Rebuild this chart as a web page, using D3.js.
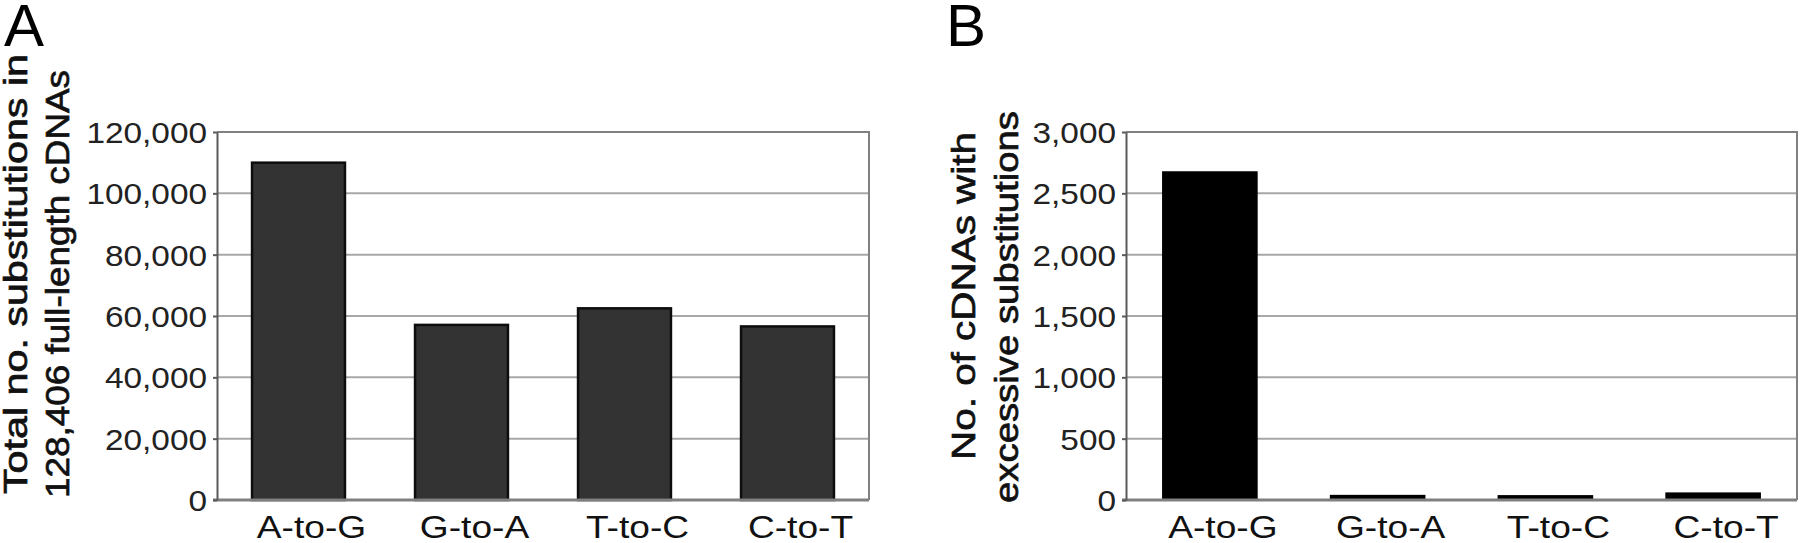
<!DOCTYPE html>
<html>
<head>
<meta charset="utf-8">
<script src="https://cdn.jsdelivr.net/npm/d3@7"></script>
<style>
  body { margin: 0; background: #fff; }
  svg { display: block; }
  text { font-family: "Liberation Sans", Arial, sans-serif; }
</style>
</head>
<body>
<div id="chart"></div>
<script>
// data
const categories = ["A-to-G", "G-to-A", "T-to-C", "C-to-T"];
const totalSubstitutions = [110000, 57100, 62500, 56600];
const excessiveCdnas = [2680, 42, 40, 62];
const ticksA = [0, 20000, 40000, 60000, 80000, 100000, 120000];
const ticksB = [0, 500, 1000, 1500, 2000, 2500, 3000];
const titleA = ["Total no. substitutions in", "128,406 full-length cDNAs"];
const titleB = ["No. of cDNAs with", "excessive substitutions"];

const width = 1800;
const height = 543;

const svg = d3
  .select("#chart")
  .append("svg")
  .attr("width", width)
  .attr("height", height);

// stretch text horizontally to match the wide font of the original
function stretch(sel, k) {
  sel.each(function () {
    const w = this.getComputedTextLength();
    d3.select(this)
      .attr("textLength", w * k)
      .attr("lengthAdjust", "spacingAndGlyphs");
  });
}

function drawPanel(cfg) {
  const top = 132;
  const bottom = 500;

  const g = svg.append("g").attr("class", "panel");

  const x = d3
    .scaleBand()
    .domain(categories)
    .range([cfg.left, cfg.right])
    .paddingInner(0.43)
    .paddingOuter(0.215);

  const y = d3
    .scaleLinear()
    .domain([0, d3.max(cfg.ticks)])
    .range([bottom, top]);

  // gridlines
  g.append("g")
    .selectAll("line")
    .data(cfg.ticks.filter((d) => d > 0 && d < d3.max(cfg.ticks)))
    .join("line")
    .attr("x1", cfg.left)
    .attr("x2", cfg.right)
    .attr("y1", (d) => y(d))
    .attr("y2", (d) => y(d))
    .attr("stroke", "#a8a8a8")
    .attr("stroke-width", 2);

  // frame top / right
  g.append("path")
    .attr("d", `M${cfg.left},${top}H${cfg.right}V${bottom}`)
    .attr("fill", "none")
    .attr("stroke", "#808080")
    .attr("stroke-width", 2);

  // bars
  g.append("g")
    .selectAll("rect")
    .data(cfg.values)
    .join("rect")
    .attr("x", (d, i) => x(categories[i]))
    .attr("width", x.bandwidth())
    .attr("y", (d) => y(d))
    .attr("height", (d) => bottom - y(d))
    .attr("fill", cfg.fill)
    .attr("stroke", cfg.stroke)
    .attr("stroke-width", cfg.strokeWidth);

  // baseline
  g.append("line")
    .attr("x1", cfg.left - 4)
    .attr("x2", cfg.right)
    .attr("y1", bottom)
    .attr("y2", bottom)
    .attr("stroke", "#808080")
    .attr("stroke-width", 3);

  // y axis
  const yAxis = d3
    .axisLeft(y)
    .tickValues(cfg.ticks)
    .tickSize(4)
    .tickSizeOuter(0)
    .tickPadding(6)
    .tickFormat(d3.format(","));

  const ya = g
    .append("g")
    .attr("class", "y-axis")
    .attr("transform", `translate(${cfg.left},0)`)
    .call(yAxis);

  ya.select(".domain").attr("stroke", "#5a5a5a").attr("stroke-width", 2);
  ya.selectAll(".tick line").attr("stroke", "#5a5a5a").attr("stroke-width", 2);
  ya.selectAll(".tick text")
    .attr("font-size", 29)
    .attr("fill", "#222")
    .attr("dy", "0.36em")
    .call(stretch, 1.15);

  // x axis
  const xAxis = d3.axisBottom(x).tickSize(0).tickSizeOuter(0);
  const xa = g
    .append("g")
    .attr("class", "x-axis")
    .attr("transform", `translate(0,${bottom})`)
    .call(xAxis);

  xa.select(".domain").remove();
  xa.selectAll(".tick text")
    .attr("font-size", 32)
    .attr("fill", "#111")
    .attr("y", 38)
    .attr("dy", null)
    .attr("dx", 13)
    .call(stretch, 1.16);

  // y title, two lines
  cfg.title.forEach((t, i) => {
    g.append("text")
      .attr("transform", `translate(${cfg.titleX[i]},${cfg.titleY[i]}) rotate(-90)`)
      .attr("text-anchor", "middle")
      .attr("font-size", 34)
      .attr("fill", "#111")
      .attr("stroke", "#111")
      .attr("stroke-width", 0.7)
      .attr("textLength", cfg.titleLen[i])
      .attr("lengthAdjust", "spacingAndGlyphs")
      .text(t);
  });

  // panel letter
  g.append("text")
    .attr("x", cfg.letterX)
    .attr("y", 46)
    .attr("font-size", 60)
    .attr("fill", "#000")
    .text(cfg.letter);
}

drawPanel({
  left: 217,
  right: 869,
  values: totalSubstitutions,
  ticks: ticksA,
  fill: "#333333",
  stroke: "#0d0d0d",
  strokeWidth: 2.5,
  title: titleA,
  titleX: [27, 69],
  titleY: [274, 284],
  titleLen: [440, 428],
  letter: "A",
  letterX: 4,
});

drawPanel({
  left: 1126,
  right: 1797,
  values: excessiveCdnas,
  ticks: ticksB,
  fill: "#000000",
  stroke: "#000000",
  strokeWidth: 0,
  title: titleB,
  titleX: [975, 1018],
  titleY: [296, 307],
  titleLen: [328, 392],
  letter: "B",
  letterX: 946,
});
</script>
</body>
</html>
